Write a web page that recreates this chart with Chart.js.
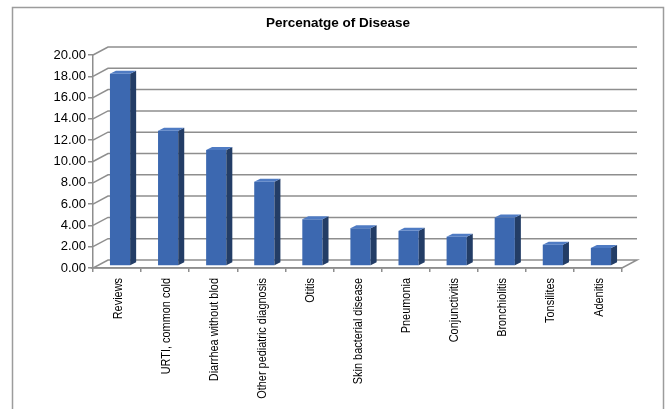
<!DOCTYPE html>
<html>
<head>
<meta charset="utf-8">
<script src="https://cdn.jsdelivr.net/npm/chart.js@4/dist/chart.umd.min.js"></script>
<style>
  html, body { margin: 0; padding: 0; background: #fff; }
  #wrap { width: 665px; height: 409px; position: relative; }
</style>
</head>
<body>
<div id="wrap"><canvas id="diseaseChart"></canvas></div>
<script>
// chart data
const chartTitle = 'Percenatge of Disease';
const categories = [
    'Reviews', 'URTI, common cold', 'Diarrhea without blod', 'Other pediatric diagnosis',
    'Otitis', 'Skin bacterial disease', 'Pneumonia', 'Conjunctivitis',
    'Bronchiolitis', 'Tonsilites', 'Adenitis'
];
const percentages = [18.05, 12.7, 10.9, 7.9, 4.4, 3.55, 3.3, 2.75, 4.55, 2.0, 1.7];
const yMin = 0;
const yMax = 20;
const yStep = 2;

// colours
const colors = {
    front: '#3C68B0',
    side: '#233D66',
    top: '#4F7BC3',
    grid: '#8e8e8e',
    frame: '#9c9c9c',
    text: '#000000'
};

const wallDepth = { x: 15, y: -8 };   // back wall offset
const barDepth = { x: 6, y: -3 };     // bar side/top thickness
const barShift = { x: 3, y: -2 };     // bars sit a bit behind the front plane

// draws the chart frame, title, condensed category labels and the 3D walls
const wallsPlugin = {
    id: 'walls',
    beforeDatasetsDraw(chart) {
        const { ctx, chartArea: { left, right, bottom }, scales: { y } } = chart;
        ctx.save();
        ctx.strokeStyle = colors.grid;
        ctx.lineWidth = 1.5;
        y.ticks.forEach(t => {
            if (t.value === yMin) return;
            const py = y.getPixelForValue(t.value);
            ctx.beginPath();
            ctx.moveTo(left, py);
            ctx.lineTo(left + wallDepth.x, py + wallDepth.y);
            ctx.lineTo(right + wallDepth.x, py + wallDepth.y);
            ctx.stroke();
        });
        // floor
        ctx.beginPath();
        ctx.moveTo(left, bottom);
        ctx.lineTo(right, bottom);
        ctx.lineTo(right + wallDepth.x, bottom + wallDepth.y);
        ctx.lineTo(left + wallDepth.x, bottom + wallDepth.y);
        ctx.closePath();
        ctx.stroke();
        ctx.restore();

        ctx.save();
        ctx.translate(barShift.x, barShift.y);
    },
    afterDatasetsDraw(chart) {
        const { ctx } = chart;
        const meta = chart.getDatasetMeta(0);
        meta.data.forEach(bar => {
            const p = bar.getProps(['x', 'y', 'width', 'base'], true);
            const l = p.x - p.width / 2;
            const r = p.x + p.width / 2;
            // side face
            ctx.fillStyle = colors.side;
            ctx.beginPath();
            ctx.moveTo(r, p.y);
            ctx.lineTo(r + barDepth.x, p.y + barDepth.y);
            ctx.lineTo(r + barDepth.x, p.base + barDepth.y);
            ctx.lineTo(r, p.base);
            ctx.closePath();
            ctx.fill();
            // top face
            ctx.fillStyle = colors.top;
            ctx.beginPath();
            ctx.moveTo(l, p.y);
            ctx.lineTo(l + barDepth.x, p.y + barDepth.y);
            ctx.lineTo(r + barDepth.x, p.y + barDepth.y);
            ctx.lineTo(r, p.y);
            ctx.closePath();
            ctx.fill();
        });
        ctx.restore();
    },
    afterDraw(chart) {
        const { ctx, chartArea: { bottom }, scales: { x } } = chart;
        ctx.save();
        ctx.strokeStyle = colors.frame;
        ctx.lineWidth = 1.5;
        ctx.strokeRect(12.5, 7.5, 651, 500);
        ctx.fillStyle = colors.text;
        ctx.font = 'bold 13.5px "Liberation Sans", Arial, sans-serif';
        ctx.textAlign = 'center';
        ctx.textBaseline = 'middle';
        ctx.fillText(chartTitle, 338, 23);
        ctx.restore();

        // category labels, rotated and narrowed like the original
        ctx.save();
        ctx.fillStyle = colors.text;
        ctx.font = '13px "Liberation Sans", Arial, sans-serif';
        ctx.textAlign = 'right';
        ctx.textBaseline = 'middle';
        categories.forEach((c, i) => {
            const px = x.getPixelForTick(i);
            ctx.save();
            ctx.translate(px + 1, bottom + 10);
            ctx.rotate(-Math.PI / 2);
            ctx.scale(0.84, 1);
            ctx.fillText(c, 0, 0);
            ctx.restore();
        });
        ctx.restore();
    }
};

new Chart(document.getElementById('diseaseChart').getContext('2d'), {
    type: 'bar',
    data: {
        labels: categories,
        datasets: [{
            label: chartTitle,
            data: percentages,
            backgroundColor: colors.front,
            borderWidth: 0,
            categoryPercentage: 1,
            barPercentage: 0.42,
            clip: false
        }]
    },
    options: {
        responsive: true,
        maintainAspectRatio: false,
        animation: false,
        layout: { padding: { top: 55, right: 43, bottom: 0, left: 0 } },
        plugins: {
            legend: { display: false },
            title: { display: false },
            tooltip: { enabled: false }
        },
        scales: {
            x: {
                grid: { drawOnChartArea: false, drawTicks: true, tickLength: 4, color: colors.grid, lineWidth: 1.5, offset: true },
                border: { display: true, color: colors.grid, width: 1.5 },
                ticks: { display: false, autoSkip: false },
                afterFit: scale => { scale.height = 141; }
            },
            y: {
                min: yMin,
                max: yMax,
                grid: { drawOnChartArea: false, drawTicks: true, tickLength: 5, color: colors.grid, lineWidth: 1.5 },
                border: { display: true, color: colors.grid, width: 1.5 },
                ticks: {
                    stepSize: yStep,
                    padding: 2,
                    color: colors.text,
                    font: { family: '"Liberation Sans", Arial, sans-serif', size: 13 },
                    callback: v => v.toFixed(2)
                },
                afterFit: scale => { scale.width = 93; }
            }
        }
    },
    plugins: [wallsPlugin]
});
</script>
</body>
</html>
